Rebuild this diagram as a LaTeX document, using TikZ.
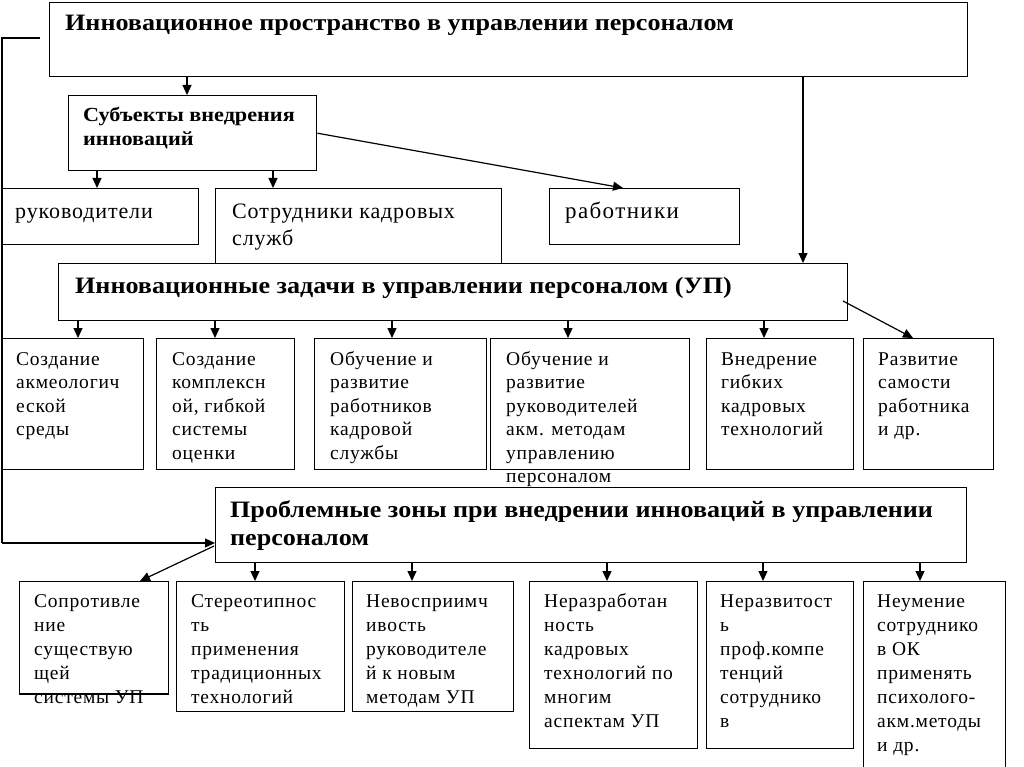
\documentclass[tikz,border=0pt]{standalone}
\usepackage{fontspec}
\setmainfont{Liberation Serif}
\newfontfamily\boxfont[LetterSpace=4]{Liberation Serif}
\newfontfamily\widefont[LetterSpace=6]{Liberation Serif}
\newfontfamily\ttlfont[FakeStretch=1.11]{Liberation Serif}
\usetikzlibrary{arrows.meta}
\begin{document}
\begin{tikzpicture}[x=1pt,y=-1pt,
  box/.style={draw, line width=1.4pt, fill=white, inner sep=0pt, anchor=north west},
  txt/.style={anchor=north west, inner sep=0pt, align=left},
  ttl/.style={txt, font=\fontsize{23.5}{28}\selectfont\ttlfont\bfseries},
  sub/.style={txt, font=\fontsize{20}{24}\selectfont\ttlfont\bfseries},
  mid/.style={txt, font=\fontsize{19.5}{23.5}\selectfont\boxfont},
  low/.style={txt, font=\fontsize{19.5}{24}\selectfont\boxfont},
  big/.style={txt, font=\fontsize{22}{27}\selectfont\boxfont},
  arr/.style={line width=1.2pt, -{Triangle[length=10pt,width=9pt]}},
  ln/.style={line width=1.2pt}]
\useasboundingbox[fill=white] (0,0) rectangle (1024,767);

% boxes
\node[box, minimum width=918, minimum height=74] (top) at (49,2) {};
\node[box, minimum width=248, minimum height=75] (subj) at (68,95) {};
\node[box, minimum width=197, minimum height=56] (ruk) at (1,188) {};
\node[box, minimum width=286, minimum height=75] (sotr) at (215,188) {};
\node[box, minimum width=190, minimum height=56] (rab) at (549,188) {};
\node[box, minimum width=789, minimum height=57] (zad) at (58,263) {};
\node[box, minimum width=141, minimum height=131] (m1) at (2,338) {};
\node[box, minimum width=138, minimum height=131] (m2) at (156,338) {};
\node[box, minimum width=172, minimum height=131] (m3) at (314,338) {};
\node[box, minimum width=199, minimum height=131] (m4) at (490,338) {};
\node[box, minimum width=147, minimum height=131] (m5) at (706,338) {};
\node[box, minimum width=130, minimum height=131] (m6) at (863,338) {};
\node[box, minimum width=751, minimum height=75] (prob) at (215,487) {};
\node[box, minimum width=149, minimum height=112] (b1) at (19,581) {};
\node[box, minimum width=168, minimum height=130] (b2) at (176,581) {};
\node[box, minimum width=161, minimum height=130] (b3) at (352,581) {};
\node[box, minimum width=168, minimum height=167] (b4) at (529,581) {};
\node[box, minimum width=147, minimum height=167] (b5) at (706,581) {};
\node[box, minimum width=142, minimum height=200] (b6) at (863,581) {};

% texts
\node[ttl] (ttop) at (65,11) {\strut Инновационное пространство в управлении персоналом};
\node[sub] (tsubj) at (83,104.2) {\strut Субъекты внедрения\\инноваций};
\node[big] (truk) at (15,199.1) {\strut руководители};
\node[big] (tsotr) at (232,199.1) {\strut Сотрудники кадровых\\служб};
\node[txt, font=\fontsize{23}{27}\selectfont\widefont] (trab) at (565,199.1) {\strut работники};
\node[ttl] (tzad) at (75,273.4) {\strut Инновационные задачи в управлении персоналом (УП)};
\node[mid] (tm1) at (16,348.5) {\strut Создание\\акмеологич\\еской\\среды};
\node[mid] (tm2) at (172,348.5) {\strut Создание\\комплексн\\ой, гибкой\\системы\\оценки};
\node[mid] (tm3) at (330,348.5) {\strut Обучение и\\развитие\\работников\\кадровой\\службы};
\node[mid] (tm4) at (506,348.5) {\strut Обучение и\\развитие\\руководителей\\акм. методам\\управлению\\персоналом};
\node[mid] (tm5) at (721,348.5) {\strut Внедрение\\гибких\\кадровых\\технологий};
\node[mid] (tm6) at (878,348.5) {\strut Развитие\\самости\\работника\\и др.};
\node[ttl] (tprob) at (230,497.4) {\strut Проблемные зоны при внедрении инноваций в управлении\\персоналом};
\node[low] (tb1) at (34,590.2) {\strut Сопротивле\\ние\\существую\\щей\\системы УП};
\node[low] (tb2) at (191,590.2) {\strut Стереотипнос\\ть\\применения\\традиционных\\технологий};
\node[low] (tb3) at (366,590.2) {\strut Невосприимч\\ивость\\руководителе\\й к новым\\методам УП};
\node[low] (tb4) at (544,590.2) {\strut Неразработан\\ность\\кадровых\\технологий по\\многим\\аспектам УП};
\node[low] (tb5) at (720,590.2) {\strut Неразвитост\\ь\\проф.компе\\тенций\\сотруднико\\в};
\node[low] (tb6) at (877,590.2) {\strut Неумение\\сотруднико\\в ОК\\применять\\психолого-\\акм.методы\\и др.};
% redraw b1 bottom border over text
\draw[line width=1.4pt] (b1.south west) -- (b1.south east);

% helper coordinates
\coordinate (x187) at (187,0);
\coordinate (x97) at (97,0);
\coordinate (x273) at (273,0);
\coordinate (x623) at (623,0);
\coordinate (x803) at (803,0);
\coordinate (x78) at (78,0);
\coordinate (x215) at (215,0);
\coordinate (x392) at (392,0);
\coordinate (x568) at (568,0);
\coordinate (x764) at (764,0);
\coordinate (zs) at (843,301);
\coordinate (m6t) at (913,338);
\coordinate (lstart) at (40,38);
\coordinate (lcorner) at (2,38);
\coordinate (lbot) at (2,543);
\coordinate (ps) at (214,546);
\coordinate (b1t) at (140,581);
\coordinate (x255) at (255,0);
\coordinate (x412) at (412,0);
\coordinate (x607) at (607,0);
\coordinate (x763) at (763,0);
\coordinate (x920) at (920,0);

% connectors
\draw[arr] (top.south -| x187) -- (subj.north -| x187);
\draw[arr] (subj.south -| x97) -- (ruk.north -| x97);
\draw[arr] (subj.south -| x273) -- (sotr.north -| x273);
\draw[arr] (subj.east) -- (rab.north -| x623);
\draw[arr] (top.south -| x803) -- (zad.north -| x803);
\draw[arr] (zad.south -| x78) -- (m1.north -| x78);
\draw[arr] (zad.south -| x215) -- (m2.north -| x215);
\draw[arr] (zad.south -| x392) -- (m3.north -| x392);
\draw[arr] (zad.south -| x568) -- (m4.north -| x568);
\draw[arr] (zad.south -| x764) -- (m5.north -| x764);
\draw[arr] (zs) -- (m6t);
\draw[ln] (lstart) -- (lcorner) -- (lbot);
\draw[arr] (lbot) -- (prob.west |- lbot);
\draw[arr] (ps) -- (b1t);
\draw[arr] (prob.south -| x255) -- (b2.north -| x255);
\draw[arr] (prob.south -| x412) -- (b3.north -| x412);
\draw[arr] (prob.south -| x607) -- (b4.north -| x607);
\draw[arr] (prob.south -| x763) -- (b5.north -| x763);
\draw[arr] (prob.south -| x920) -- (b6.north -| x920);
\end{tikzpicture}
\end{document}
